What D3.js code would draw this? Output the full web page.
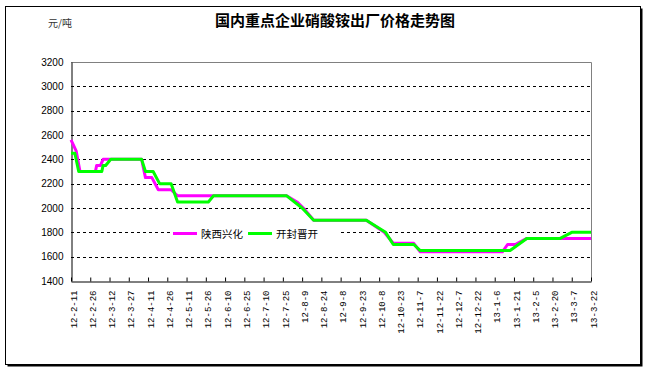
<!DOCTYPE html>
<html>
<head>
<meta charset="utf-8">
<script src="https://cdn.jsdelivr.net/npm/d3@7"></script>
<style>
body{margin:0;background:#fff}
svg{display:block}
</style>
</head>
<body>
<svg width="650" height="372"></svg>
<script>
// tick labels on the date axis (every 15 days)
var tickLabels = ['12-2-11','12-2-26','12-3-12','12-3-27','12-4-11','12-4-26','12-5-11','12-5-26',
  '12-6-10','12-6-25','12-7-10','12-7-25','12-8-9','12-8-24','12-9-8','12-9-23','12-10-8','12-10-23',
  '12-11-7','12-11-22','12-12-7','12-12-22','13-1-6','13-1-21','13-2-5','13-2-20','13-3-7','13-3-22']
var yTicks = [1400,1600,1800,2000,2200,2400,2600,2800,3000,3200]

// 陕西兴化
var sxDates = ['12-2-11','12-2-15','12-2-18','12-3-1','12-3-2','12-3-5','12-3-7','12-4-6','12-4-9','12-4-14',
  '12-4-19','12-4-29','12-5-4','12-7-28','12-8-5','12-8-10','12-8-18','12-9-28','12-10-12','12-10-19',
  '12-11-4','12-11-9','13-1-12','13-1-16','13-1-22','13-1-31','13-3-22']
var sxValues = [2560,2470,2300,2300,2350,2350,2400,2400,2250,2250,
  2150,2150,2100,2100,2050,2000,1900,1900,1800,1710,
  1710,1640,1640,1700,1700,1750,1750]

// 开封晋开
var kfDates = ['12-2-11','12-2-14','12-2-17','12-3-6','12-3-7','12-3-9','12-3-13','12-4-6','12-4-9','12-4-15',
  '12-4-20','12-4-29','12-5-4','12-5-28','12-6-1','12-7-28','12-8-9','12-8-18','12-9-28','12-10-13',
  '12-10-19','12-11-4','12-11-9','13-1-18','13-1-31','13-2-26','13-3-7','13-3-22']
var kfValues = [2450,2450,2300,2300,2350,2350,2400,2400,2300,2300,
  2200,2200,2050,2050,2100,2100,2000,1900,1900,1800,
  1700,1700,1650,1650,1750,1750,1800,1800]

var parse = d3.timeParse('%y-%m-%d')
var svg = d3.select('svg')

// outer frame
svg.append('rect').attr('x',7.5).attr('y',8.5).attr('width',635).attr('height',358).attr('fill','#000')
svg.append('rect').attr('x',5.5).attr('y',6.5).attr('width',635).attr('height',358)
  .attr('fill','#fff').attr('stroke','#000').attr('stroke-width',1)

var pL = 71, pR = 591, pT = 62, pB = 281
var x = d3.scaleTime().domain([parse('12-2-11'), parse('13-3-22')]).range([pL, pR])
var y = d3.scaleLinear().domain([1400, 3200]).range([pB, pT])

// plot border (grey top/right)
svg.append('path').attr('d','M'+pL+','+(pT+0.5)+'H'+(pR+0.5)+'V'+pB)
  .attr('fill','none').attr('stroke','#808080')

// gridlines
svg.append('g').selectAll('line').data(yTicks.slice(1, -1)).join('line')
  .attr('x1',pL).attr('x2',pR)
  .attr('y1',d => Math.round(y(d))+0.5).attr('y2',d => Math.round(y(d))+0.5)
  .attr('stroke','#000').attr('stroke-dasharray','3,3')

// y axis
var ya = svg.append('g').attr('transform','translate('+(pL+0.5)+',0)')
  .call(d3.axisLeft(y).tickValues(yTicks).tickSize(0).tickPadding(8).tickFormat(d3.format('d')))
ya.select('.domain').attr('stroke','#000')
ya.selectAll('text').attr('font-family','"Liberation Sans", Arial, sans-serif').attr('font-size',10).attr('fill','#000')

// x axis
var xa = svg.append('g').attr('transform','translate(0,'+(pB+0.5)+')')
  .call(d3.axisBottom(x).tickValues(tickLabels.map(parse)).tickSizeInner(-4).tickSizeOuter(0)
    .tickFormat(d3.timeFormat('%y-%-m-%-d')))
xa.select('.domain').attr('stroke','#000')
xa.selectAll('.tick line').attr('stroke','#000')
xa.selectAll('text').attr('font-family','"Liberation Mono", monospace').attr('font-size',9).attr('fill','#000')
  .attr('text-anchor','end').attr('transform','rotate(-90)').attr('x',-9).attr('y',2).attr('dy','0.35em')

// lines
var line = d3.line().x(d => x(d[0])).y(d => y(d[1]))
var sx = sxDates.map((d,i) => [parse(d), sxValues[i]])
var kf = kfDates.map((d,i) => [parse(d), kfValues[i]])
svg.append('path').datum(sx).attr('d',line).attr('fill','none').attr('stroke','#ff00ff')
  .attr('stroke-width',3).attr('stroke-linejoin','round')
svg.append('path').datum(kf).attr('d',line).attr('fill','none').attr('stroke','#00ff00')
  .attr('stroke-width',3).attr('stroke-linejoin','round')

// legend
var lg = svg.append('g').attr('transform','translate(170,226)')
lg.append('rect').attr('width',168).attr('height',15).attr('fill','#fff')
var items = [['陕西兴化','#ff00ff'],['开封晋开','#00ff00']]
items.forEach(function(it, i){
  var gx = 3 + i*75
  lg.append('line').attr('x1',gx).attr('x2',gx+24).attr('y1',7.5).attr('y2',7.5)
    .attr('stroke',it[1]).attr('stroke-width',3)
  lg.append('text').attr('x',gx+28).attr('y',11.5).text(it[0])
    .attr('font-family','"Noto Sans CJK SC", sans-serif').attr('font-size',10.5).attr('fill','#000')
})

// titles
svg.append('text').attr('x',335).attr('y',26).attr('text-anchor','middle').text('国内重点企业硝酸铵出厂价格走势图')
  .attr('font-family','"Noto Sans CJK SC", sans-serif').attr('font-size',15).attr('font-weight','bold')
svg.append('text').attr('x',48).attr('y',27).text('元/吨')
  .attr('font-family','"Noto Sans CJK SC", sans-serif').attr('font-size',10).attr('fill','#333')
</script>
</body>
</html>
